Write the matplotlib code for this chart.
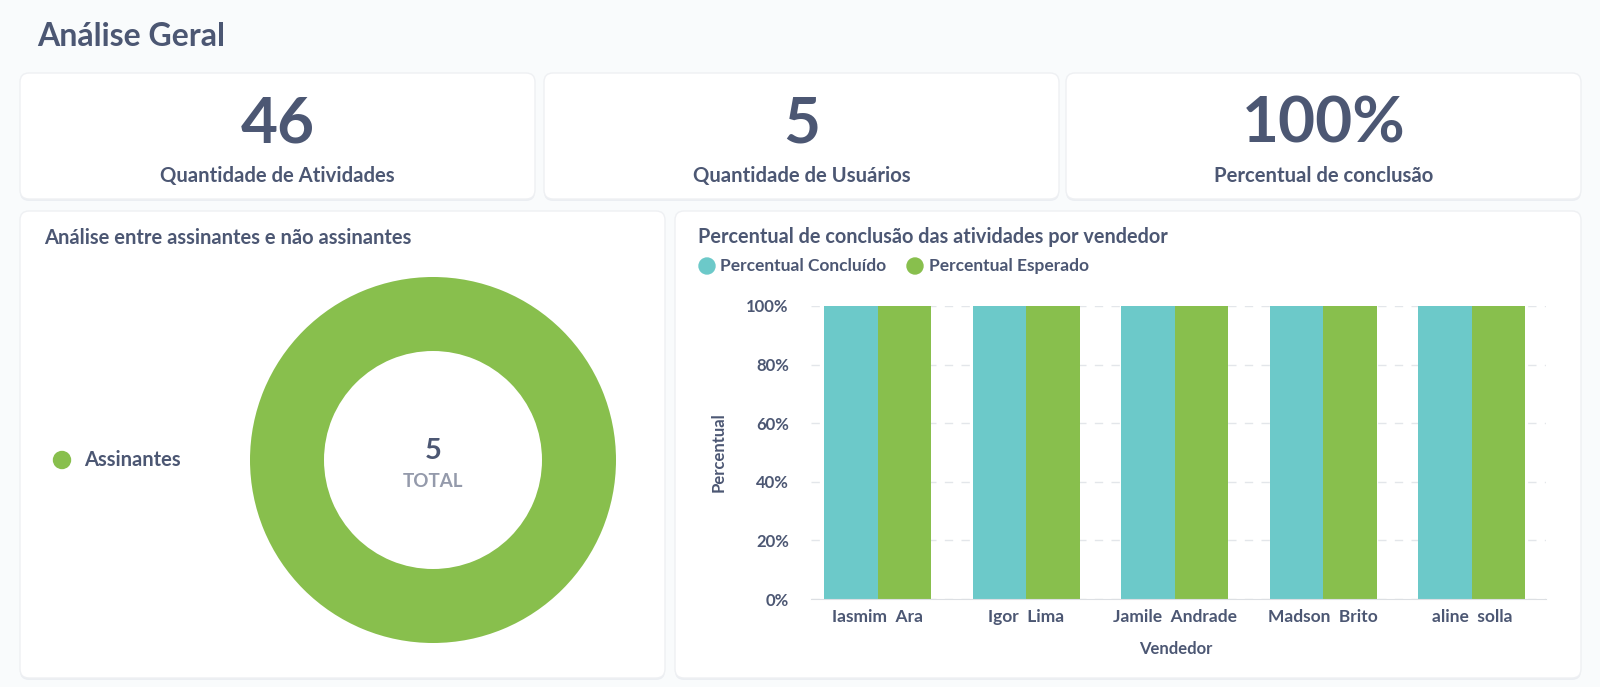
import numpy as np
import matplotlib
matplotlib.use('Agg')
import matplotlib.pyplot as plt
from matplotlib.patches import FancyBboxPatch, Circle
from matplotlib.ticker import FuncFormatter

plt.rcParams['font.family'] = ['Lato', 'DejaVu Sans']

# data
kpi_values = ['46', '5', '100%']
kpi_labels = ['Quantidade de Atividades', 'Quantidade de Usuários', 'Percentual de conclusão']

pie_labels = ['Assinantes']
pie_values = [5]

vendedores = ['Iasmim  Ara', 'Igor  Lima', 'Jamile  Andrade', 'Madson  Brito', 'aline  solla']
concluido = [100, 100, 100, 100, 100]
esperado = [100, 100, 100, 100, 100]
series_names = ['Percentual Concluído', 'Percentual Esperado']

dark = '#4C5773'
medium = '#949AAB'
teal = '#6CC9C9'
green = '#88BF4D'

W, H = 1600, 687
fig = plt.figure(figsize=(W / 100, H / 100), dpi=100)
fig.patch.set_facecolor('#F9FBFC')

# background axes in pixel coords
bg = fig.add_axes([0, 0, 1, 1])
bg.set_xlim(0, W)
bg.set_ylim(H, 0)
bg.axis('off')


def card(x, y, w, h):
    shadow = FancyBboxPatch((x, y + 2), w, h, boxstyle='round,pad=0,rounding_size=9',
                           facecolor='#EBEEF2', edgecolor='none', zorder=1)
    bg.add_patch(shadow)
    box = FancyBboxPatch((x, y), w, h, boxstyle='round,pad=0,rounding_size=9',
                         facecolor='white', edgecolor='#EEF0F3', linewidth=1, zorder=2)
    bg.add_patch(box)


bg.text(37, 36, 'Análise Geral', fontsize=23, fontweight='bold', color=dark,
        ha='left', va='center')

# KPI cards
cards_x = [20, 544, 1066]
card_w = 515
for i in range(3):
    card(cards_x[i], 73, card_w, 126)
    cx = cards_x[i] + card_w / 2
    bg.text(cx, 124, kpi_values[i], fontsize=46, fontweight='bold', color=dark,
            ha='center', va='center', zorder=3)
    bg.text(cx, 176, kpi_labels[i], fontsize=14.6, fontweight='bold', color=dark,
            ha='center', va='center', zorder=3)

# bottom cards
card(20, 211, 645, 467)
card(675, 211, 906, 467)

bg.text(44, 238, 'Análise entre assinantes e não assinantes', fontsize=14.5,
        fontweight='bold', color=dark, ha='left', va='center', zorder=3)
bg.text(698, 237, 'Percentual de conclusão das atividades por vendedor', fontsize=14.3,
        fontweight='bold', color=dark, ha='left', va='center', zorder=3)

# donut
cx, cy, R = 433, 460, 183
S = 420
ax_pie = fig.add_axes([(cx - S / 2) / W, 1 - (cy + S / 2) / H, S / W, S / H])
ax_pie.pie(pie_values, colors=[green], radius=1, startangle=90,
           wedgeprops=dict(width=1 - 109 / R, edgecolor='none'))
L = S / (2 * R)
ax_pie.set_xlim(-L, L)
ax_pie.set_ylim(-L, L)
ax_pie.axis('off')
ax_pie.text(0, 0.05, str(sum(pie_values)), fontsize=21, fontweight='bold', color=dark,
            ha='center', va='center')
ax_pie.text(0, -0.12, 'TOTAL', fontsize=13.5, fontweight='bold', color=medium,
            ha='center', va='center')

bg.add_patch(Circle((62, 460), 8.5, color=green, zorder=3))
bg.text(84, 460, pie_labels[0], fontsize=14.5, fontweight='bold', color=dark,
        ha='left', va='center', zorder=3)

# bar legend
bg.add_patch(Circle((707, 266), 8, color=teal, zorder=3))
bg.text(720, 266, series_names[0], fontsize=12.5, fontweight='bold', color=dark,
        ha='left', va='center', zorder=3)
bg.add_patch(Circle((915, 266), 8, color=green, zorder=3))
bg.text(929, 266, series_names[1], fontsize=12.5, fontweight='bold', color=dark,
        ha='left', va='center', zorder=3)

# bar chart
left, right, top, bottom = 811, 1546, 306, 599
ax = fig.add_axes([left / W, 1 - bottom / H, (right - left) / W, (bottom - top) / H])
x = np.arange(len(vendedores))
bw = 0.36
ax.bar(x - bw / 2, concluido, bw, color=teal, zorder=3)
ax.bar(x + bw / 2, esperado, bw, color=green, zorder=3)
ax.set_xlim(-0.45, len(vendedores) - 0.5)
ax.set_ylim(0, 100)
ax.set_yticks([0, 20, 40, 60, 80, 100])
ax.yaxis.set_major_formatter(FuncFormatter(lambda v, p: f'{v:.0f}%'))
ax.set_xticks(x)
ax.set_xticklabels(vendedores)
ax.tick_params(axis='both', length=0, labelcolor=dark)
ax.tick_params(axis='y', pad=16, labelsize=12)
ax.tick_params(axis='x', pad=7, labelsize=12.5)
for lab in ax.get_xticklabels() + ax.get_yticklabels():
    lab.set_fontweight('bold')
ax.grid(axis='y', color='#E3E6EA', linewidth=1, linestyle=(0, (6, 6)), zorder=0)
ax.set_axisbelow(True)
for s in ['top', 'right', 'left']:
    ax.spines[s].set_visible(False)
ax.spines['bottom'].set_color('#DCDFE3')
ax.spines['bottom'].set_zorder(4)
ax.patch.set_alpha(0)

bg.text(719, 452, 'Percentual', fontsize=12, fontweight='bold', color=dark,
        rotation=90, ha='center', va='center', zorder=3)
bg.text(1176, 649, 'Vendedor', fontsize=12, fontweight='bold', color=dark,
        ha='center', va='center', zorder=3)

fig.savefig('out.png', dpi=100, facecolor=fig.get_facecolor())
